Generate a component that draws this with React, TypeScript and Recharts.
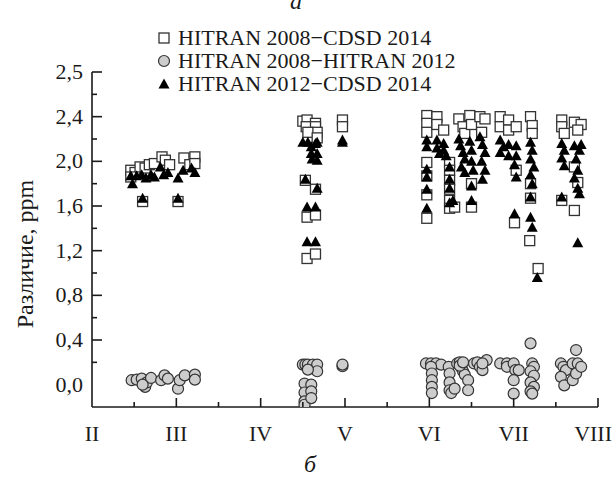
import { ScatterChart, Scatter, XAxis, YAxis, Legend } from "recharts"

// months II..VIII, half-month minor ticks
const monthTicks = [2, 2.5, 3, 3.5, 4, 4.5, 5, 5.5, 6, 6.5, 7, 7.5, 8]
const monthLabels = ["II", "III", "IV", "V", "VI", "VII", "VIII"]

const yTicks = [0, 0.2, 0.4, 0.6, 0.8, 1, 1.2, 1.4, 1.6, 1.8, 2, 2.2, 2.4, 2.6, 2.8]
// the top tick is printed "2,5" in the original figure
const yTickLabels = ["0,0", "", "0,4", "", "0,8", "", "1,2", "", "1,6", "", "2,0", "", "2,4", "", "2,5"]

const seriesNames = ["HITRAN 2008−CDSD 2014", "HITRAN 2008−HITRAN 2012", "HITRAN 2012−CDSD 2014"]

// [month, difference ppm]
const h08c14: [number, number][] = [
  [2.46, 1.92], [2.51, 1.9], [2.57, 1.95], [2.63, 1.94], [2.68, 1.97], [2.74, 1.98], [2.83, 2.04],
  [2.87, 2.01], [2.92, 1.97], [3.09, 2.03], [3.16, 1.97], [3.22, 2.04], [2.6, 1.64], [3.02, 1.64],
  [2.46, 1.86], [3.22, 1.98],
  [4.5, 2.36], [4.55, 2.37], [4.65, 2.34], [4.54, 2.31], [4.65, 2.31], [4.67, 2.26], [4.56, 2.26],
  [4.67, 2.21], [4.97, 2.37], [4.97, 2.31], [4.53, 1.83], [4.65, 1.75], [4.55, 1.5], [4.65, 1.52],
  [4.55, 1.13], [4.65, 1.17],
  [5.97, 2.41], [5.97, 2.34], [5.97, 2.26], [5.97, 1.99], [5.97, 1.87], [5.97, 1.7], [5.97, 1.49],
  [6.09, 2.4], [6.09, 2.33], [6.17, 2.28],
  [6.24, 1.99], [6.24, 1.92], [6.24, 1.83], [6.24, 1.75], [6.24, 1.65], [6.24, 1.58], [6.3, 1.59],
  [6.35, 2.38], [6.4, 2.31], [6.42, 2.25],
  [6.48, 2.41], [6.5, 2.33], [6.5, 1.8], [6.5, 1.59],
  [6.6, 2.4], [6.66, 2.38], [6.62, 2.26],
  [6.84, 2.4], [6.84, 2.31], [6.94, 2.37], [6.94, 2.28],
  [7.03, 2.31], [7.03, 1.92], [7.01, 1.45],
  [7.2, 2.4], [7.22, 2.32], [7.22, 2.25], [7.2, 1.8], [7.2, 1.67], [7.19, 1.29], [7.29, 1.04],
  [7.57, 2.37], [7.57, 2.31], [7.6, 2.25], [7.57, 1.65],
  [7.72, 2.35], [7.8, 2.33], [7.76, 2.28], [7.72, 1.95], [7.76, 1.81], [7.72, 1.56],
]

const h08h12: [number, number][] = [
  [2.47, 0.04], [2.53, 0.045], [2.59, 0.054], [2.63, -0.02], [2.65, 0.02], [2.7, 0.06], [2.82, 0.04],
  [2.86, 0.083], [2.9, 0.054], [3.02, -0.036], [3.04, 0.04], [3.1, 0.083], [3.22, 0.09], [3.22, 0.045],
  [2.6, 0.0],
  [4.5, 0.18], [4.53, 0.18], [4.56, 0.18], [4.62, 0.18], [4.67, 0.18], [4.67, 0.12], [4.56, 0.135],
  [4.52, 0.01], [4.52, -0.07], [4.52, -0.15], [4.52, -0.18], [4.6, 0.0], [4.6, -0.06], [4.6, -0.12],
  [4.97, 0.165], [4.97, 0.18],
  [5.96, 0.19], [6.02, 0.19], [6.08, 0.19], [6.14, 0.18], [6.02, 0.16], [6.03, 0.1], [6.03, 0.04],
  [6.03, -0.02], [6.03, -0.075],
  [6.23, 0.16], [6.24, 0.1], [6.24, 0.02], [6.24, -0.05], [6.26, -0.075], [6.3, -0.036],
  [6.33, 0.19], [6.36, 0.2], [6.38, 0.15], [6.4, 0.12], [6.42, 0.09], [6.36, 0.17], [6.4, 0.2],
  [6.46, 0.04], [6.46, -0.05],
  [6.53, 0.19], [6.57, 0.2], [6.6, 0.16], [6.63, 0.13], [6.68, 0.22], [6.63, 0.19],
  [6.84, 0.19], [6.92, 0.19], [6.92, 0.16],
  [7.0, 0.19], [7.02, 0.13], [7.0, 0.04], [7.0, -0.08], [7.06, 0.13],
  [7.2, 0.37], [7.22, 0.19], [7.24, 0.16], [7.2, 0.12], [7.24, 0.08], [7.2, 0.02], [7.24, -0.02],
  [7.2, -0.06], [7.22, -0.08],
  [7.56, 0.19], [7.59, 0.16], [7.62, 0.13], [7.56, 0.07], [7.6, -0.006],
  [7.7, 0.19], [7.74, 0.31], [7.78, 0.16], [7.76, 0.19], [7.7, 0.04], [7.74, 0.1], [7.8, 0.16],
]

const h12c14: [number, number][] = [
  [2.46, 1.87], [2.48, 1.8], [2.53, 1.87], [2.59, 1.88], [2.64, 1.85], [2.7, 1.88], [2.74, 1.86],
  [2.81, 1.95], [2.85, 1.88], [2.9, 1.9], [3.02, 1.85], [3.08, 1.92], [3.18, 1.94], [3.22, 1.9],
  [2.6, 1.67], [3.02, 1.67],
  [4.5, 2.17], [4.56, 2.17], [4.6, 2.13], [4.65, 2.16], [4.67, 2.17], [4.6, 2.07], [4.67, 2.07],
  [4.67, 2.01], [4.61, 2.02], [4.97, 2.17], [4.97, 2.19], [4.53, 1.84], [4.67, 1.76], [4.55, 1.59],
  [4.65, 1.59], [4.55, 1.28], [4.65, 1.28],
  [5.97, 2.19], [5.97, 2.13], [5.97, 1.93], [5.97, 1.86], [5.97, 1.75], [5.97, 1.58],
  [6.09, 2.19], [6.09, 2.12], [6.12, 2.07], [6.17, 2.16], [6.17, 2.1], [6.2, 2.05],
  [6.24, 1.95], [6.24, 1.84], [6.24, 1.76], [6.24, 1.63], [6.28, 1.65],
  [6.35, 2.2], [6.37, 2.14], [6.4, 2.08], [6.42, 2.02], [6.38, 1.95], [6.42, 1.9],
  [6.48, 2.18], [6.5, 2.1], [6.5, 2.0], [6.52, 1.92], [6.5, 1.78], [6.5, 1.65],
  [6.6, 2.22], [6.63, 2.15], [6.66, 2.08], [6.62, 2.0], [6.66, 1.92], [6.63, 1.84],
  [6.84, 2.19], [6.84, 2.08], [6.88, 2.13], [6.94, 2.15], [6.94, 2.05],
  [7.03, 2.14], [7.03, 2.05], [7.01, 1.97], [7.03, 1.86], [7.01, 1.53],
  [7.2, 2.17], [7.22, 2.1], [7.2, 2.02], [7.24, 1.95], [7.2, 1.88], [7.22, 1.8], [7.2, 1.68],
  [7.2, 1.5], [7.22, 1.41], [7.28, 0.96],
  [7.57, 2.16], [7.6, 2.1], [7.57, 2.03], [7.6, 1.96], [7.57, 1.68],
  [7.72, 2.14], [7.78, 2.1], [7.74, 2.02], [7.8, 2.15], [7.76, 1.92], [7.72, 1.85], [7.76, 1.76],
  [7.78, 1.71], [7.76, 1.27],
]

const toPoints = (arr: [number, number][]) => arr.map(([x, y]) => ({ x, y }))

const FONT = "'Liberation Serif', 'Times New Roman', serif"
const INK = "#1a1a1a"

const Square = ({ cx, cy }: any) => (
  <rect x={cx - 5} y={cy - 5} width={10} height={10} fill="#fff" stroke="#333" strokeWidth={1.3} />
)
const Circle = ({ cx, cy }: any) => (
  <circle cx={cx} cy={cy} r={5.5} fill="#cdcdcd" stroke="#333" strokeWidth={1.2} />
)
const Triangle = ({ cx, cy }: any) => (
  <path d={`M${cx},${cy - 5.5} L${cx + 5.5},${cy + 4.5} L${cx - 5.5},${cy + 4.5} Z`} fill="#000" />
)
const markers = [Square, Circle, Triangle]

const XTick = ({ x, y, payload }: any) => {
  const v = payload.value
  const major = Number.isInteger(v)
  const last = v === 8
  return (
    <g>
      {v > 2 && <line x1={x} x2={x} y1={y} y2={y - (major ? 9 : 5)} stroke={INK} strokeWidth={1.6} />}
      {major && (
        <text x={last ? x + 14 : x} y={y + 34} textAnchor={last ? "end" : "middle"} fontFamily={FONT} fontSize={22} fill={INK}>
          {monthLabels[v - 2]}
        </text>
      )}
    </g>
  )
}

const YTick = ({ x, y, payload, index }: any) => {
  const label = yTickLabels[index] ?? ""
  const major = label !== ""
  return (
    <g>
      {payload.value > 0 && <line x1={x} x2={x + (major ? 10 : 5)} y1={y} y2={y} stroke={INK} strokeWidth={1.6} />}
      {major && (
        <text x={x - 9} y={y + 7} textAnchor="end" fontFamily={FONT} fontSize={22} fill={INK}>
          {label}
        </text>
      )}
    </g>
  )
}

const LegendBox = () => (
  <div style={{ fontFamily: FONT, fontSize: 22, color: INK, lineHeight: "23px" }}>
    {seriesNames.map((name, i) => {
      const M = markers[i]
      return (
        <div key={name} style={{ display: "flex", alignItems: "center", height: 23 }}>
          <svg width={16} height={16} style={{ marginRight: 6 }}>
            <M cx={8} cy={8} />
          </svg>
          <span>{name}</span>
        </div>
      )
    })}
  </div>
)

export default function App() {
  return (
    <div style={{ position: "absolute", left: 0, top: 0, width: 614, height: 478, background: "#fff" }}>
      <ScatterChart width={614} height={478} margin={{ top: 72, right: 16, bottom: 31, left: 42 }}>
        <XAxis
          type="number"
          dataKey="x"
          domain={[2, 8]}
          ticks={monthTicks}
          interval={0}
          height={40}
          tickSize={0}
          tickMargin={0}
          tickLine={false}
          axisLine={{ stroke: INK, strokeWidth: 1.6 }}
          tick={<XTick />}
          allowDataOverflow
        />
        <YAxis
          type="number"
          dataKey="y"
          domain={[-0.2, 2.8]}
          ticks={yTicks}
          interval={0}
          width={50}
          tickSize={0}
          tickMargin={0}
          tickLine={false}
          axisLine={{ stroke: INK, strokeWidth: 1.6 }}
          tick={<YTick />}
          allowDataOverflow
        />
        <Legend
          layout="vertical"
          align="center"
          verticalAlign="middle"
          wrapperStyle={{ top: 26, left: 156, width: 380 }}
          content={<LegendBox />}
        />
        <Scatter name={seriesNames[0]} data={toPoints(h08c14)} shape={<Square />} isAnimationActive={false} />
        <Scatter name={seriesNames[1]} data={toPoints(h08h12)} shape={<Circle />} isAnimationActive={false} />
        <Scatter name={seriesNames[2]} data={toPoints(h12c14)} shape={<Triangle />} isAnimationActive={false} />
      </ScatterChart>
      <svg width={614} height={478} style={{ position: "absolute", left: 0, top: 0, pointerEvents: "none" }}>
        <text x={0} y={0} transform="translate(27 254) rotate(-90)" textAnchor="middle" dominantBaseline="middle"
          fontFamily={FONT} fontSize={24} fill={INK}>
          Различие, ppm
        </text>
        <text x={296} y={9} textAnchor="middle" fontFamily={FONT} fontStyle="italic" fontSize={24} fill={INK}>а</text>
        <text x={310} y={472} textAnchor="middle" fontFamily={FONT} fontStyle="italic" fontSize={24} fill={INK}>б</text>
      </svg>
    </div>
  )
}
